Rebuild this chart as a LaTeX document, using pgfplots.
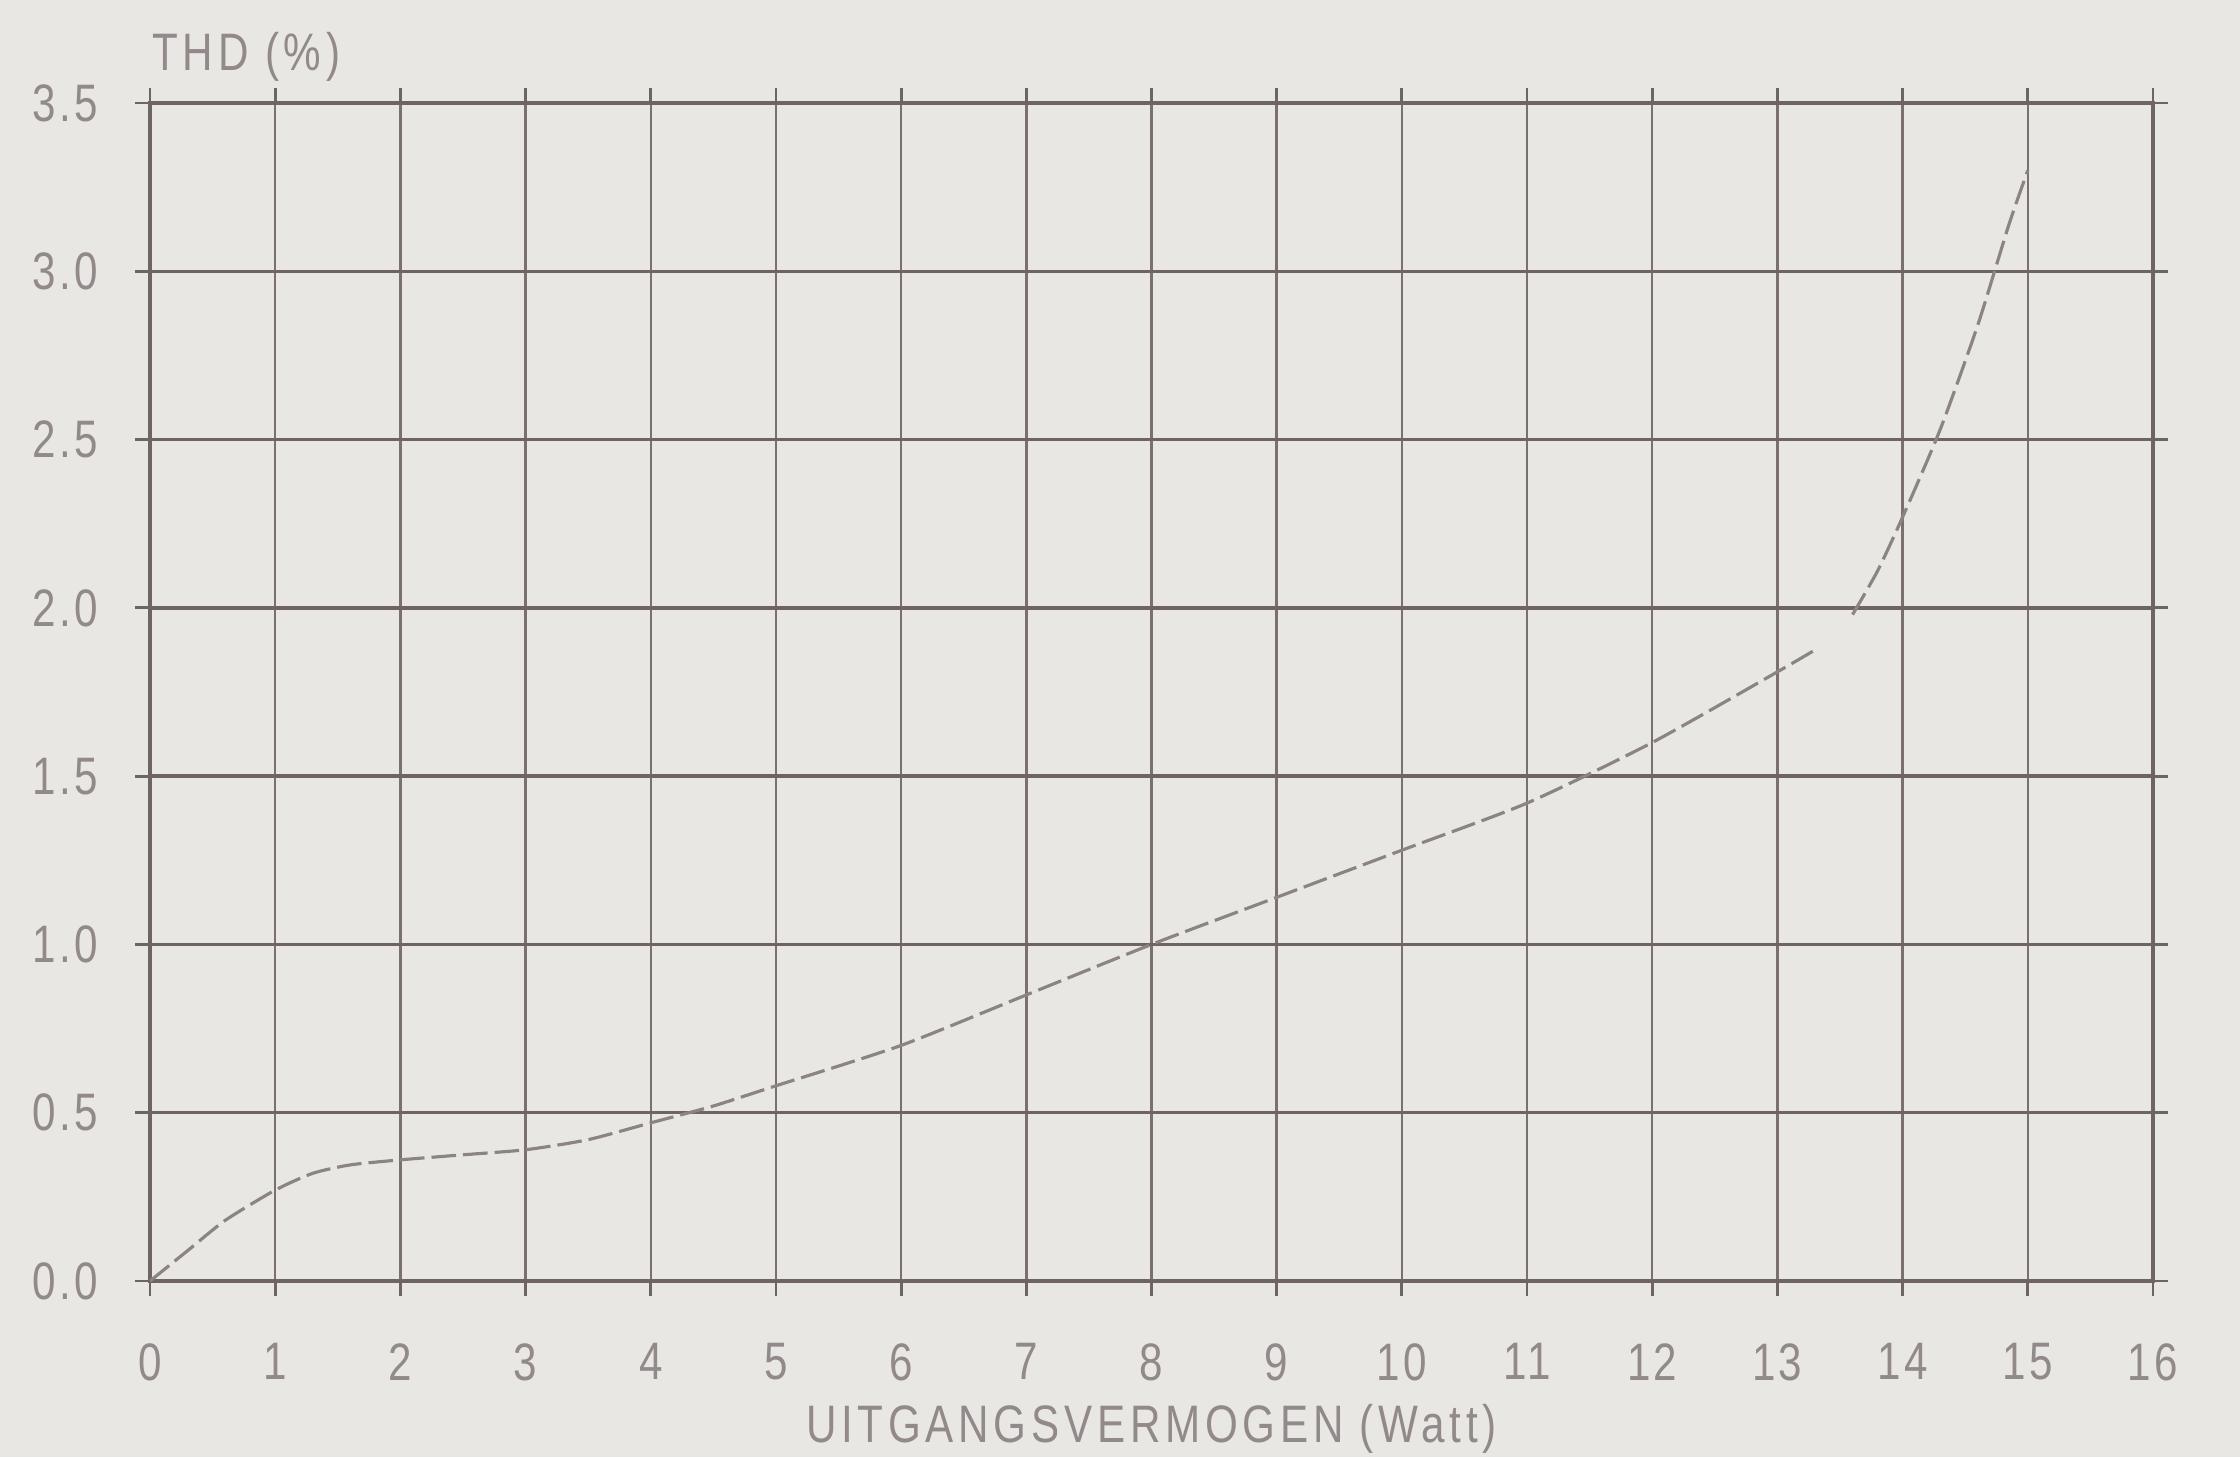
\documentclass[border=0pt]{standalone}
\usepackage{pgfplots}
\pgfplotsset{compat=1.18}
\usepackage{fontspec}
\setmainfont{Liberation Sans}[FakeStretch=0.8]
\definecolor{paper}{HTML}{E9E7E3}
\definecolor{gridc}{HTML}{6E6464}
\definecolor{gridv}{HTML}{7A7070}
\definecolor{txt}{HTML}{928A8A}
\definecolor{curve}{HTML}{8C8484}
\newcommand{\tickfont}{\fontsize{15}{15}\selectfont\addfontfeatures{LetterSpace=6}}
\newcommand{\widefont}{\fontsize{15}{15}\selectfont\addfontfeatures{LetterSpace=9}}
\begin{document}
\begin{tikzpicture}
\fill[paper] (-1.5cm,-1.76cm) rectangle (20.9cm,12.81cm);
\useasboundingbox (-1.5cm,-1.76cm) rectangle (20.9cm,12.81cm);
\begin{axis}[
  at={(0,0)}, anchor=south west,
  scale only axis, width=20.03cm, height=11.78cm,
  xmin=0, xmax=16, ymin=0, ymax=3.5,
  xtick={0,...,16}, ytick={0,0.5,...,3.5},
  grid=major,
  x grid style={gridv, line width=0.7pt},
  y grid style={gridc, line width=1pt},
  axis line style={gridc, line width=1pt},
  tick align=outside, major tick length=0.15cm,
  tick style={gridc, line width=0.8pt},
  /pgf/number format/assume math mode=true,
  yticklabel style={/pgf/number format/fixed, /pgf/number format/fixed zerofill,
    /pgf/number format/precision=1, font=\tickfont, text=txt, xshift=-0.25cm},
  xticklabel style={font=\tickfont, text=txt, yshift=-0.35cm},
  xlabel={UITGANGSVERMOGEN (Watt)},
  xlabel style={at={(rel axis cs:0.5,0)}, anchor=center, yshift=-1.48cm, font=\widefont, text=txt},
  ylabel={THD (\%)},
  ylabel style={rotate=-90, at={(rel axis cs:0,1)}, anchor=west, yshift=0.46cm, xshift=-0.1cm, font=\widefont, text=txt},
]
\addplot[curve, line width=0.9pt, dash pattern=on 7pt off 2pt, smooth, tension=0.4] coordinates {
 (0,0) (0.3,0.09) (0.6,0.18) (1,0.27) (1.3,0.32) (1.6,0.345) (2,0.36) (2.5,0.375)
 (3,0.39) (3.5,0.42) (4,0.47) (4.5,0.52) (5,0.58) (6,0.70) (7,0.85) (8,1.0)
 (9,1.14) (10,1.28) (11,1.42) (12,1.60) (13,1.81) (13.3,1.875)
};
\addplot[curve, line width=0.9pt, dash pattern=on 7pt off 2pt, smooth, tension=0.4] coordinates {
 (13.6,1.98) (13.8,2.11) (14,2.27) (14.3,2.53) (14.6,2.84) (14.85,3.14) (15,3.30)
};
\end{axis}
\end{tikzpicture}
\end{document}
